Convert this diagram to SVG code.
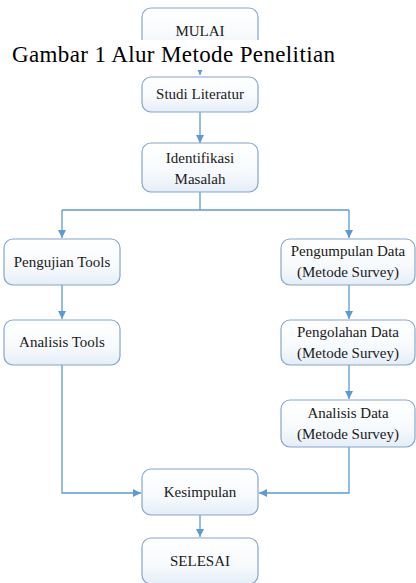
<svg xmlns="http://www.w3.org/2000/svg" width="416" height="583" viewBox="0 0 416 583">
<defs>
<linearGradient id="g" x1="0" y1="0" x2="0" y2="1">
<stop offset="0" stop-color="#ffffff"/>
<stop offset="0.6" stop-color="#f7fafd"/>
<stop offset="1" stop-color="#e4edf7"/>
</linearGradient>
<marker id="a" viewBox="0 0 10 10" refX="10" refY="5" markerWidth="8" markerHeight="8" markerUnits="userSpaceOnUse" orient="auto">
<path d="M0,0 L10,5 L0,10 Z" fill="#5b9bd5"/>
</marker>
<style>
.box{fill:url(#g);stroke:#86a6c9;stroke-width:1.2}
.t{font-family:"Liberation Serif","Times New Roman",serif;font-size:15px;fill:#1a1a1a;text-anchor:middle}
.c{fill:none;stroke:#5b9bd5;stroke-width:1.3}
.cap{font-family:"Liberation Serif","Times New Roman",serif;font-size:23px;fill:#000}
</style>
</defs>
<rect width="416" height="583" fill="#fff"/>
<g id="connectors">
<path class="c" d="M200,54 V75" marker-end="url(#a)"/>
<path class="c" d="M200,112 V143" marker-end="url(#a)"/>
<path class="c" d="M200,192 V210 M62,210 H349"/>
<path class="c" d="M62,210 V238" marker-end="url(#a)"/>
<path class="c" d="M349,210 V238" marker-end="url(#a)"/>
<path class="c" d="M62,285 V319" marker-end="url(#a)"/>
<path class="c" d="M349,285 V319" marker-end="url(#a)"/>
<path class="c" d="M349,365 V399" marker-end="url(#a)"/>
<path class="c" d="M62,365 V493 H141" marker-end="url(#a)"/>
<path class="c" d="M349,447 V493 H259" marker-end="url(#a)"/>
<path class="c" d="M200,515 V537" marker-end="url(#a)"/>
</g>
<g id="mulai">
<rect class="box" x="142" y="8" width="116" height="46" rx="9"/>
<text class="t" x="200" y="36">MULAI</text>
</g>
<rect x="0" y="40" width="416" height="30" fill="#fff"/>
<text class="cap" x="12" y="62" textLength="323" lengthAdjust="spacing">Gambar 1 Alur Metode Penelitian</text>
<g id="studi">
<rect class="box" x="142" y="77" width="116" height="35" rx="9"/>
<text class="t" x="200" y="99">Studi Literatur</text>
</g>
<g id="identifikasi">
<rect class="box" x="142" y="143" width="116" height="49" rx="9"/>
<text class="t" x="200" y="163">Identifikasi</text>
<text class="t" x="200" y="184">Masalah</text>
</g>
<g id="pengujian">
<rect class="box" x="4" y="239" width="116" height="46" rx="9"/>
<text class="t" x="62" y="267">Pengujian Tools</text>
</g>
<g id="analisis-tools">
<rect class="box" x="4" y="320" width="116" height="45" rx="9"/>
<text class="t" x="62" y="347">Analisis Tools</text>
</g>
<g id="pengumpulan">
<rect class="box" x="281" y="239" width="134" height="46" rx="9"/>
<text class="t" x="348" y="256">Pengumpulan Data</text>
<text class="t" x="348" y="277">(Metode Survey)</text>
</g>
<g id="pengolahan">
<rect class="box" x="281" y="320" width="134" height="45" rx="9"/>
<text class="t" x="348" y="337">Pengolahan Data</text>
<text class="t" x="348" y="358">(Metode Survey)</text>
</g>
<g id="analisis-data">
<rect class="box" x="281" y="400" width="134" height="47" rx="9"/>
<text class="t" x="348" y="418">Analisis Data</text>
<text class="t" x="348" y="439">(Metode Survey)</text>
</g>
<g id="kesimpulan">
<rect class="box" x="142" y="469" width="116" height="46" rx="9"/>
<text class="t" x="200" y="497">Kesimpulan</text>
</g>
<g id="selesai">
<rect class="box" x="142" y="538" width="116" height="46" rx="9"/>
<text class="t" x="200" y="566">SELESAI</text>
</g>
</svg>
